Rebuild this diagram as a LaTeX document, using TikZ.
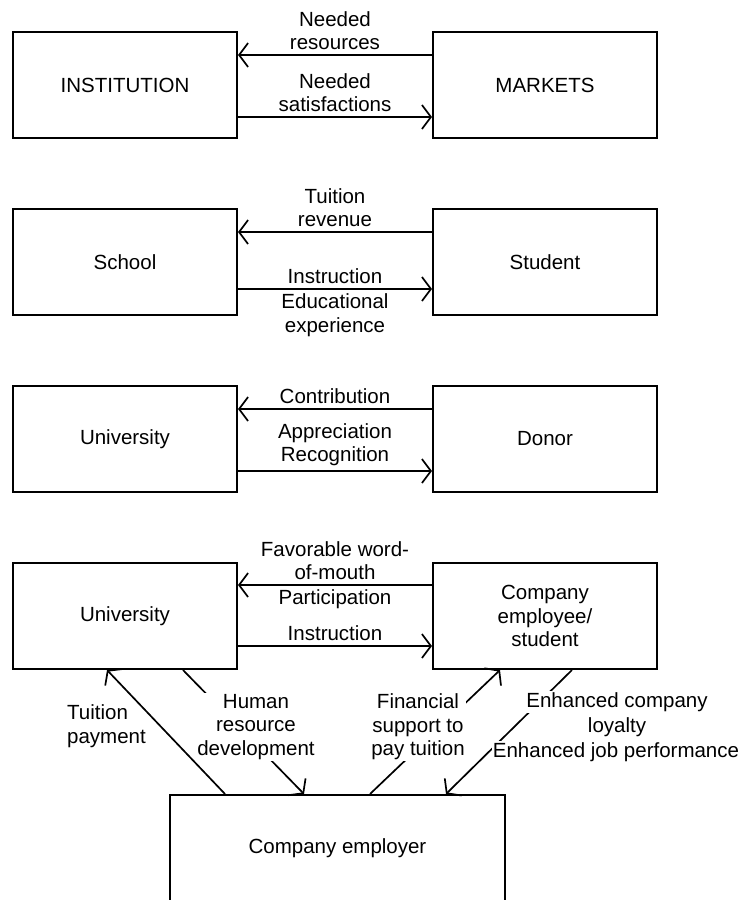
\documentclass[tikz,border=0pt]{standalone}
\usepackage{fontspec}
\setmainfont{Liberation Sans}
\usetikzlibrary{arrows.meta,positioning}

\begin{document}
\begin{tikzpicture}[
  x=1pt,y=-1pt,
  node distance=69pt and 194pt,
  every node/.style={font=\fontsize{20.5}{23.5}\selectfont},
  box/.style={draw,line width=2pt,minimum width=224pt,minimum height=106pt,inner sep=0pt,align=center},
  flow/.style={-{Straight Barb[length=9pt,width=24pt]},line width=1.7pt},
  lbl/.style={align=center,inner sep=1pt},
  tag/.style={lbl,fill=white}
]
\useasboundingbox (0,0) rectangle (744,900);
\clip (0,0) rectangle (744,900);
\node[box] (inst) at (125,85) {INSTITUTION};
\node[box,right=of inst] (mkt) {MARKETS};
\node[box,below=of inst] (school) {School};
\node[box,right=of school] (student) {Student};
\node[box,below=of school] (univ) {University};
\node[box,right=of univ] (donor) {Donor};
\node[box,below=of univ] (univb) {University};
\node[box,right=of univb] (empl) {Company\\employee/\\student};
\node[box,minimum width=335pt] (emp) at (337.5,848) {Company employer};
\draw[flow] ([yshift=30pt]mkt.west) -- ([yshift=30pt]inst.east)
  node[lbl,midway,above=3pt] (needres) {Needed\\resources};
\draw[flow] ([yshift=-32pt]inst.east) -- ([yshift=-32pt]mkt.west)
  node[lbl,midway,above=3pt] (needsat) {Needed\\satisfactions};
\draw[flow] ([yshift=30pt]student.west) -- ([yshift=30pt]school.east)
  node[lbl,midway,above=3pt] (tuirev) {Tuition\\revenue};
\draw[flow] ([yshift=-27pt]school.east) -- ([yshift=-27pt]student.west)
  node[lbl,midway,above=3pt] (instr) {Instruction}
  node[lbl,midway,below=3pt] (eduexp) {Educational\\experience};
\draw[flow] ([yshift=30pt]donor.west) -- ([yshift=30pt]univ.east)
  node[lbl,midway,above=3pt] (contrib) {Contribution};
\draw[flow] ([yshift=-32pt]univ.east) -- ([yshift=-32pt]donor.west)
  node[lbl,midway,above=3pt] (apprec) {Appreciation\\Recognition};
\draw[flow] ([yshift=31pt]empl.west) -- ([yshift=31pt]univb.east)
  node[lbl,midway,above=3pt] (wom) {Favorable word-\\of-mouth}
  node[lbl,midway,below=3pt] (partic) {Participation};
\draw[flow] ([yshift=-30pt]univb.east) -- ([yshift=-30pt]empl.west)
  node[lbl,midway,above=3pt] (instrb) {Instruction};
\draw[flow] ([xshift=-112.5pt]emp.north) -- ([xshift=-18pt]univb.south);
\draw[flow] ([xshift=58pt]univb.south) -- ([xshift=-33.5pt]emp.north);
\draw[flow] ([xshift=32.5pt]emp.north) -- ([xshift=-45pt]empl.south);
\draw[flow] ([xshift=27pt]empl.south) -- ([xshift=108.5pt]emp.north);
\node[lbl,align=left,anchor=west] (tuipay) at (66,726) {Tuition\\payment};
\node[tag] (hrd) at (256,727) {Human\\resource\\development};
\node[tag] (finsup) at (418,727) {Financial\\support to\\pay tuition};
\node[tag] (loyal) at (617,702) {Enhanced company};
\node[tag] (loyalb) at (617,727) {loyalty};
\node[tag] (jobperf) at (616,752) {Enhanced job performance};
\end{tikzpicture}
\end{document}
